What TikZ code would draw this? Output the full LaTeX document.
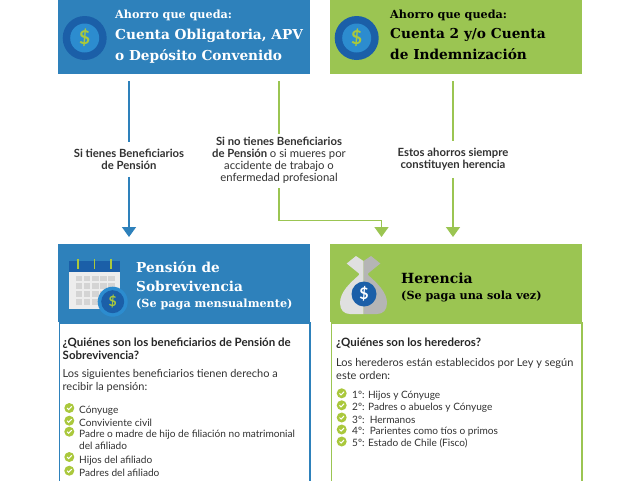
\documentclass[tikz,border=0pt]{standalone}
\usepackage{fontspec}
\setmainfont{Lato}
\newfontfamily\slabfont{DejaVu Serif}
\usetikzlibrary{arrows.meta,positioning,calc}
\definecolor{AfpBlue}{RGB}{46,129,187}
\definecolor{AfpGreen}{RGB}{155,197,82}
\definecolor{CoinDark}{RGB}{27,95,168}
\definecolor{CoinLight}{RGB}{44,140,207}
\definecolor{DollarGreen}{RGB}{170,200,60}
\definecolor{InkGray}{RGB}{50,50,50}
\newcommand{\sz}[1]{\fontsize{#1}{#1}\selectfont}

\begin{document}
\begin{tikzpicture}[x=1pt, y=-1pt,
    band/.style={anchor=north west, minimum width=252pt, inner sep=0pt, outer sep=0pt},
    panel/.style={anchor=north west, minimum width=250.5pt, minimum height=170pt, inner sep=0pt, line width=1.5pt, fill=white},
    kicker/.style={anchor=west, inner sep=0pt, font=\slabfont\bfseries\sz{11.2}},
    headline/.style={anchor=north west, inner sep=0pt, align=left, font=\slabfont\bfseries\sz{13.7}\linespread{1}},
    cond/.style={align=center, inner sep=0pt, font=\bfseries\sz{11.3}, text=InkGray},
    ask/.style={anchor=north west, inner sep=0pt, align=left, font=\bfseries\sz{11.5}, text=black!85},
    say/.style={anchor=north west, inner sep=0pt, align=left, font=\sz{11}, text=InkGray},
    item/.style={anchor=west, inner sep=0pt, align=left, font=\sz{10.1}, text=InkGray},
    tick/.style={circle, fill=#1, draw=none, minimum size=10pt, inner sep=0pt},
    tickmark/.style={draw=white, line width=1pt},
    bluearr/.style={AfpBlue, line width=1.5pt},
    greenarr/.style={AfpGreen, line width=1.5pt},
    tip/.style={-{Triangle[length=10pt, width=14pt]}}
  ]
    \clip (0,0) rectangle (640,480);
    \fill[white] (0,0) rectangle (640,480);

    % Top bands
    \node[band, fill=AfpBlue, minimum height=76pt] (oblig) at (58,-2) {};
    \node[band, fill=AfpGreen, minimum height=76pt] (cuenta) at (330,-2) {};

    \fill[CoinDark] (84.7,38) circle (22);
    \fill[CoinLight] (84.7,38) circle (14.5);
    \node[inner sep=0pt, text=DollarGreen, font=\bfseries\sz{19}] (dollarA) at (84.7,38) {\$};
    \fill[CoinDark] (356.7,38) circle (22);
    \fill[CoinLight] (356.7,38) circle (14.5);
    \node[inner sep=0pt, text=DollarGreen, font=\bfseries\sz{19}] (dollarB) at (356.7,38) {\$};

    \node[kicker, text=white] (kickA) at (115,15) {Ahorro que queda:};
    \node[headline, text=white, below=8pt of kickA.south west, anchor=north west] (headA) {Cuenta Obligatoria, APV\\[6pt]o Depósito Convenido};
    \node[kicker, text=black] (kickB) at (390,15) {Ahorro que queda:};
    \node[headline, text=black, below=8pt of kickB.south west, anchor=north west] (headB) {Cuenta 2 y/o Cuenta\\[6pt]de Indemnización};

    % Conditions
    \node[cond] (tiene) at (129,159.5) {Si tienes Beneficiarios\\[0.7pt]de Pensión};
    \node[cond] (notiene) at (279,160) {Si no tienes Beneficiarios\\[0.7pt]de Pensión \mdseries o si mueres por\\[0.7pt]\mdseries accidente de trabajo o\\[0.7pt]\mdseries enfermedad profesional};
    \node[cond] (siempre) at (453,159.5) {Estos ahorros siempre\\[0.7pt]constituyen herencia};

    % Lower panels
    \node[panel, draw=AfpBlue] (bodyA) at (58.75,322) {};
    \node[panel, draw=AfpGreen] (bodyB) at (330.75,322) {};
    \node[band, fill=AfpBlue, minimum height=78pt] (pension) at (58,244) {};
    \node[band, fill=AfpGreen, minimum height=78pt] (herencia) at (330,244) {};

    % Arrows
    \coordinate (hereIn) at (381.5,244);
    \coordinate (bend) at ($(notiene.south)+(0,37)$);
    \draw[bluearr, shorten <=7pt] (oblig.south -| tiene.north) -- ([yshift=7pt]tiene.north);
    \draw[bluearr, tip, shorten >=7pt] ([yshift=-7pt]tiene.south) -- (pension.north -| tiene.south);
    \draw[greenarr, shorten <=7pt] (oblig.south -| notiene.north) -- ([yshift=3pt]notiene.north);
    \draw[greenarr, tip, shorten >=7pt] ([yshift=-5pt]notiene.south) -- (bend) -| (hereIn);
    \draw[greenarr, shorten <=7pt] (cuenta.south -| siempre.north) -- ([yshift=7pt]siempre.north);
    \draw[greenarr, tip, shorten >=7pt] ([yshift=-7pt]siempre.south) -- (herencia.north -| siempre.south);

    % Calendar
    \fill[black!7] (69,272) rectangle (120,309);
    \fill[CoinDark] (69,261) rectangle (120,272);
    \foreach \cx in {0,...,4}
      \foreach \cy in {0,...,3}
        \fill[black!17] (75.5+\cx*8.2,275.5+\cy*7.8) rectangle ++(6.6,5.6);
    \foreach \cx in {78,94.5,111}
      \draw[DollarGreen, line width=1.6pt] (\cx,259) -- (\cx,269);
    \fill[CoinLight] (112.7,301.7) circle (15);
    \fill[CoinDark] (112.7,301.7) circle (11.5);
    \node[inner sep=0pt, text=DollarGreen, font=\bfseries\sz{14}] (dollarC) at (112.7,301.7) {\$};

    \node[headline, text=white] (headC) at (136,261) {Pensión de\\[6pt]Sobrevivencia};
    \node[kicker, text=white] (kickC) at (136,304) {(Se paga mensualmente)};

    % Money bag
    \fill[black!12] (363.5,261) -- (356,256) -- (346.7,263.5) -- (359,273.5) -- (359,275)
      .. controls (350,283) and (340,292) .. (340,303)
      .. controls (340,310) and (344,314) .. (350,314) -- (363.5,314) -- cycle;
    \fill[black!29] (363.5,261) -- (371,256) -- (380.3,263.5) -- (368,273.5) -- (368,275)
      .. controls (377,283) and (387,292) .. (387,303)
      .. controls (387,310) and (383,314) .. (377,314) -- (363.5,314) -- cycle;
    \fill[CoinDark] (364,294) circle (12.5);
    \node[inner sep=0pt, text=white, font=\bfseries\sz{16}] (dollarD) at (364,294) {\$};

    \node[headline, text=black, font=\slabfont\bfseries\sz{14}] (headD) at (401,272.5) {Herencia};
    \node[kicker, text=black] (kickD) at (401,296) {(Se paga una sola vez)};

    % Left list
    \node[ask] (askA) at (62.5,338) {¿Quiénes son los beneficiarios de Pensión de\\[1pt]Sobrevivencia?};
    \node[say] (sayA) at (62.5,369.5) {Los siguientes beneficiarios tienen derecho a\\[2pt]recibir la pensión:};
    \foreach \yy/\lbl in {408/a,420.7/b,431.7/c,457/d,470.7/e} {
      \node[tick=DollarGreen] (chk\lbl) at (69.3,\yy) {};
      \draw[tickmark] ([shift={(-2.2,0)}]chk\lbl.center) -- ++(1.6,1.6) -- ++(3,-3.2);
    }
    \node[item] (itemA) at (79,411) {Cónyuge};
    \node[item] (itemB) at (79,423) {Conviviente civil};
    \node[item, anchor=north west] (itemC) at (79,430) {Padre o madre de hijo de filiación no matrimonial\\[2pt]del afiliado};
    \node[item] (itemD) at (79,460.5) {Hijos del afiliado};
    \node[item] (itemE) at (79,472.5) {Padres del afiliado};

    % Right list
    \node[ask] (askB) at (336,338) {¿Quiénes son los herederos?};
    \node[say] (sayB) at (336,358) {Los herederos están establecidos por Ley y según\\[2pt]este orden:};
    \foreach \yy/\lbl in {393.3/f,405.3/g,417.5/h,429.5/i,441.5/j} {
      \node[tick=DollarGreen] (chk\lbl) at (341.7,\yy) {};
      \draw[tickmark] ([shift={(-2.2,0)}]chk\lbl.center) -- ++(1.6,1.6) -- ++(3,-3.2);
    }
    \node[item] (itemF) at (352,395.5) {1º: Hijos y Cónyuge};
    \node[item] (itemG) at (352,407.5) {2º: Padres o abuelos y Cónyuge};
    \node[item] (itemH) at (352,419.5) {3º:\, Hermanos};
    \node[item] (itemI) at (352,431.5) {4º:\, Parientes como tíos o primos};
    \node[item] (itemJ) at (352,443.5) {5º: Estado de Chile (Fisco)};
  \end{tikzpicture}
\end{document}
